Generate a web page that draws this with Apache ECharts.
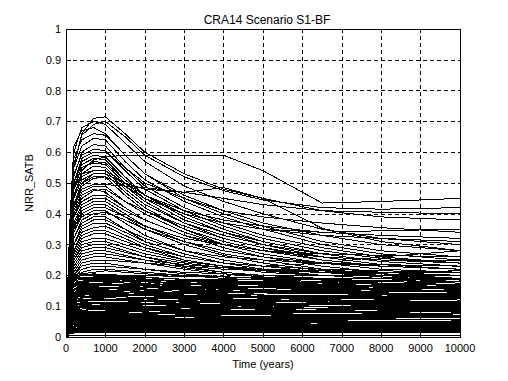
<!DOCTYPE html>
<html>
<head>
<meta charset="utf-8">
<script src="https://cdn.jsdelivr.net/npm/echarts@6/dist/echarts.min.js"></script>
<style>
html,body{margin:0;padding:0;background:#fff;}
#chart{width:508px;height:381px;}
#chart svg path{shape-rendering:crispEdges;}
</style>
</head>
<body>
<div id="chart"></div>
<script>
const chartTitle = 'CRA14 Scenario S1-BF';
const xName = 'Time (years)';
const yName = 'NRR_SATB';
const xTicks = [0,1000,2000,3000,4000,5000,6000,7000,8000,9000,10000];
const yTicks = [0,0.1,0.2,0.3,0.4,0.5,0.6,0.7,0.8,0.9,1];

// times for the peaked runs
const tUpper = [0,100,200,400,700,1000,1500,2000,3000,4000,5000,6500,8000,10000];
const upperRuns = [
 [0,0.30,0.55,0.66,0.71,0.715,0.66,0.60,0.53,0.48,0.45,0.41,0.39,0.38],
 [0,0.35,0.60,0.68,0.70,0.69,0.63,0.57,0.49,0.44,0.40,0.35,0.32,0.30],
 [0,0.38,0.62,0.67,0.68,0.66,0.59,0.53,0.45,0.40,0.36,0.31,0.28,0.26],
 [0,0.25,0.45,0.54,0.575,0.585,0.59,0.59,0.59,0.59,0.54,0.435,0.44,0.45],
 [0,0.33,0.55,0.62,0.645,0.64,0.57,0.51,0.44,0.39,0.35,0.30,0.27,0.25],
 [0,0.30,0.52,0.60,0.625,0.62,0.55,0.49,0.42,0.37,0.33,0.29,0.26,0.24],
 [0,0.28,0.50,0.58,0.60,0.60,0.55,0.50,0.45,0.41,0.39,0.37,0.355,0.34],
 [0,0.25,0.42,0.50,0.53,0.53,0.50,0.48,0.47,0.485,0.45,0.353,0.31,0.28],
 [0,0.30,0.50,0.56,0.58,0.575,0.51,0.46,0.40,0.35,0.31,0.27,0.245,0.23],
 [0,0.28,0.48,0.55,0.57,0.565,0.51,0.46,0.40,0.37,0.35,0.34,0.345,0.35],
 [0,0.26,0.46,0.53,0.555,0.55,0.49,0.44,0.37,0.32,0.29,0.25,0.23,0.22],
 [0,0.30,0.48,0.53,0.54,0.54,0.48,0.43,0.37,0.33,0.30,0.27,0.245,0.23],
 [0,0.27,0.45,0.51,0.53,0.53,0.47,0.42,0.35,0.30,0.27,0.24,0.22,0.21],
 [0,0.24,0.42,0.49,0.515,0.52,0.49,0.45,0.40,0.37,0.35,0.33,0.32,0.31],
 [0,0.25,0.42,0.48,0.495,0.495,0.49,0.485,0.47,0.45,0.43,0.41,0.405,0.40],
 [0,0.25,0.41,0.47,0.49,0.49,0.44,0.40,0.34,0.30,0.27,0.24,0.22,0.21],
 [0,0.22,0.39,0.45,0.475,0.48,0.44,0.41,0.36,0.32,0.29,0.26,0.235,0.22],
 [0,0.24,0.39,0.44,0.46,0.46,0.42,0.38,0.33,0.29,0.26,0.23,0.21,0.20],
 [0,0.22,0.37,0.43,0.45,0.45,0.41,0.38,0.33,0.30,0.28,0.26,0.25,0.24],
 [0,0.21,0.36,0.42,0.44,0.44,0.40,0.36,0.31,0.27,0.25,0.22,0.205,0.19],
 [0,0.20,0.35,0.41,0.43,0.43,0.39,0.35,0.30,0.265,0.24,0.215,0.20,0.185],
 [0,0.19,0.34,0.40,0.42,0.42,0.39,0.36,0.32,0.30,0.28,0.27,0.265,0.26],
 [0,0.20,0.34,0.39,0.41,0.41,0.37,0.33,0.28,0.25,0.23,0.21,0.195,0.185],
 [0,0.18,0.32,0.38,0.40,0.405,0.38,0.35,0.31,0.28,0.26,0.24,0.23,0.22],
 [0,0.19,0.32,0.37,0.39,0.39,0.35,0.31,0.27,0.24,0.22,0.20,0.19,0.18],
 [0,0.17,0.30,0.36,0.38,0.38,0.35,0.32,0.28,0.26,0.25,0.24,0.235,0.23],
 [0,0.18,0.30,0.35,0.37,0.37,0.34,0.31,0.27,0.24,0.22,0.21,0.20,0.19],
 [0,0.16,0.28,0.34,0.355,0.36,0.33,0.30,0.26,0.24,0.23,0.24,0.26,0.28],
 [0,0.17,0.28,0.33,0.345,0.345,0.32,0.29,0.25,0.23,0.21,0.20,0.19,0.185],
 [0,0.15,0.27,0.32,0.335,0.335,0.31,0.29,0.26,0.24,0.23,0.22,0.215,0.21],
 [0,0.16,0.26,0.31,0.32,0.32,0.30,0.28,0.25,0.23,0.215,0.20,0.19,0.18],
 [0,0.14,0.25,0.30,0.31,0.31,0.29,0.27,0.245,0.23,0.22,0.215,0.21,0.21],
 [0,0.15,0.25,0.29,0.30,0.30,0.28,0.26,0.23,0.21,0.20,0.19,0.18,0.175],
 [0,0.13,0.24,0.28,0.29,0.29,0.275,0.26,0.24,0.225,0.215,0.21,0.205,0.20],
 [0,0.14,0.23,0.27,0.28,0.28,0.265,0.25,0.225,0.21,0.20,0.19,0.18,0.175],
 [0,0.13,0.22,0.26,0.27,0.27,0.26,0.25,0.235,0.225,0.22,0.215,0.21,0.21],
 [0,0.12,0.21,0.25,0.26,0.26,0.25,0.24,0.22,0.205,0.195,0.185,0.18,0.175],
 [0,0.12,0.20,0.24,0.25,0.25,0.245,0.24,0.23,0.22,0.215,0.21,0.21,0.215],
 [0,0.11,0.20,0.23,0.24,0.24,0.23,0.22,0.205,0.195,0.19,0.185,0.18,0.175],
 [0,0.11,0.19,0.22,0.23,0.23,0.225,0.22,0.21,0.205,0.20,0.20,0.20,0.20],
 [0,0.10,0.18,0.21,0.22,0.22,0.215,0.21,0.20,0.19,0.185,0.18,0.175,0.17],
 [0,0.10,0.18,0.205,0.21,0.215,0.21,0.205,0.20,0.195,0.19,0.19,0.19,0.19],
 [0,0.36,0.58,0.64,0.66,0.655,0.59,0.53,0.46,0.41,0.37,0.33,0.30,0.28],
 [0,0.32,0.53,0.59,0.61,0.605,0.54,0.48,0.41,0.36,0.32,0.28,0.255,0.24],
 [0,0.30,0.50,0.57,0.59,0.585,0.52,0.46,0.39,0.34,0.30,0.26,0.235,0.22],
 [0,0.29,0.49,0.55,0.565,0.56,0.50,0.45,0.38,0.34,0.31,0.27,0.245,0.23],
 [0,0.34,0.56,0.655,0.69,0.70,0.65,0.59,0.52,0.475,0.445,0.42,0.415,0.42],
 [0,0.27,0.46,0.52,0.54,0.54,0.50,0.46,0.41,0.38,0.36,0.34,0.33,0.32],
 [0,0.25,0.43,0.50,0.52,0.52,0.46,0.41,0.35,0.31,0.28,0.25,0.23,0.22],
 [0,0.23,0.40,0.46,0.48,0.47,0.42,0.38,0.33,0.30,0.28,0.26,0.25,0.25]
];

// times for the low, flat runs
const tLower = [0,100,300,700,1500,2500,4000,5500,7000,8500,10000];
const lowerRuns = [
 [0,0.19,0.20,0.20,0.195,0.19,0.18,0.175,0.17,0.165,0.16],
 [0,0.17,0.19,0.195,0.19,0.185,0.18,0.18,0.175,0.175,0.17],
 [0,0.18,0.19,0.19,0.185,0.175,0.165,0.16,0.155,0.15,0.15],
 [0,0.16,0.18,0.185,0.18,0.178,0.172,0.168,0.165,0.16,0.158],
 [0,0.15,0.175,0.18,0.175,0.17,0.16,0.15,0.145,0.14,0.138],
 [0,0.16,0.17,0.172,0.17,0.165,0.162,0.16,0.16,0.158,0.155],
 [0,0.14,0.165,0.168,0.165,0.158,0.15,0.146,0.14,0.136,0.132],
 [0,0.15,0.16,0.162,0.16,0.16,0.156,0.152,0.15,0.148,0.146],
 [0,0.13,0.155,0.158,0.155,0.15,0.145,0.142,0.14,0.14,0.142],
 [0,0.14,0.15,0.152,0.15,0.146,0.14,0.134,0.13,0.127,0.125],
 [0,0.12,0.145,0.148,0.146,0.142,0.138,0.135,0.134,0.132,0.13],
 [0,0.13,0.14,0.142,0.14,0.136,0.13,0.127,0.125,0.122,0.12],
 [0,0.12,0.135,0.138,0.136,0.132,0.128,0.126,0.125,0.124,0.124],
 [0,0.11,0.13,0.133,0.13,0.126,0.12,0.116,0.112,0.11,0.108],
 [0,0.12,0.126,0.128,0.126,0.124,0.121,0.119,0.118,0.117,0.116],
 [0,0.10,0.12,0.124,0.122,0.118,0.113,0.11,0.107,0.105,0.104],
 [0,0.11,0.116,0.118,0.117,0.115,0.112,0.11,0.109,0.109,0.11],
 [0,0.10,0.11,0.113,0.112,0.108,0.104,0.1,0.098,0.096,0.095],
 [0,0.095,0.106,0.108,0.107,0.105,0.103,0.101,0.1,0.1,0.1],
 [0,0.09,0.1,0.103,0.102,0.099,0.095,0.092,0.09,0.088,0.087],
 [0,0.088,0.096,0.098,0.097,0.095,0.093,0.092,0.091,0.091,0.092],
 [0,0.08,0.09,0.093,0.092,0.089,0.085,0.082,0.08,0.078,0.077],
 [0,0.082,0.087,0.088,0.087,0.086,0.084,0.083,0.083,0.082,0.082],
 [0,0.075,0.082,0.084,0.083,0.08,0.077,0.075,0.073,0.072,0.071],
 [0,0.07,0.077,0.079,0.078,0.077,0.075,0.074,0.074,0.075,0.076],
 [0,0.066,0.072,0.074,0.073,0.071,0.068,0.066,0.064,0.063,0.062],
 [0,0.062,0.068,0.07,0.069,0.068,0.067,0.066,0.066,0.066,0.067],
 [0,0.058,0.063,0.065,0.064,0.062,0.06,0.058,0.057,0.056,0.055],
 [0,0.054,0.059,0.06,0.06,0.059,0.058,0.057,0.057,0.058,0.058],
 [0,0.05,0.054,0.056,0.055,0.053,0.051,0.05,0.049,0.048,0.047],
 [0,0.046,0.05,0.051,0.051,0.05,0.049,0.049,0.049,0.05,0.05],
 [0,0.042,0.046,0.047,0.046,0.045,0.043,0.042,0.041,0.04,0.04],
 [0,0.038,0.041,0.042,0.042,0.041,0.04,0.04,0.04,0.041,0.041],
 [0,0.034,0.037,0.038,0.037,0.036,0.035,0.034,0.033,0.033,0.032],
 [0,0.03,0.033,0.034,0.034,0.033,0.032,0.032,0.032,0.032,0.033],
 [0,0.026,0.028,0.029,0.029,0.028,0.027,0.026,0.026,0.025,0.025],
 [0,0.022,0.024,0.025,0.025,0.024,0.024,0.024,0.024,0.024,0.024],
 [0,0.018,0.02,0.021,0.021,0.02,0.019,0.019,0.018,0.018,0.018],
 [0,0.014,0.016,0.017,0.017,0.017,0.016,0.016,0.016,0.016,0.016],
 [0,0.005,0.006,0.006,0.006,0.006,0.006,0.006,0.006,0.006,0.006],
 [0,0.17,0.2,0.2,0.19,0.17,0.15,0.13,0.115,0.105,0.1],
 [0,0.15,0.18,0.185,0.175,0.16,0.14,0.125,0.11,0.1,0.095],
 [0,0.12,0.15,0.16,0.155,0.14,0.12,0.105,0.095,0.088,0.083],
 [0,0.1,0.125,0.135,0.13,0.118,0.1,0.088,0.08,0.074,0.07],
 [0,0.08,0.1,0.108,0.104,0.094,0.08,0.07,0.063,0.058,0.055],
 [0,0.06,0.075,0.08,0.078,0.07,0.06,0.052,0.047,0.044,0.042],
 [0,0.045,0.055,0.058,0.056,0.05,0.043,0.038,0.034,0.031,0.03],
 [0,0.05,0.065,0.07,0.075,0.08,0.085,0.09,0.094,0.097,0.1],
 [0,0.08,0.095,0.1,0.105,0.112,0.12,0.126,0.13,0.134,0.137],
 [0,0.11,0.125,0.13,0.135,0.14,0.147,0.152,0.156,0.16,0.163],
 [0,0.03,0.04,0.044,0.048,0.053,0.058,0.062,0.065,0.067,0.069],
 [0,0.14,0.16,0.165,0.168,0.17,0.172,0.176,0.18,0.184,0.188],
 [0,0.16,0.185,0.19,0.185,0.178,0.168,0.158,0.148,0.14,0.134],
 [0,0.13,0.15,0.155,0.15,0.145,0.135,0.128,0.12,0.115,0.112],
 [0,0.095,0.115,0.12,0.118,0.112,0.103,0.096,0.09,0.086,0.084],
 [0,0.07,0.085,0.09,0.088,0.084,0.078,0.073,0.069,0.066,0.064],
 [0,0.04,0.048,0.052,0.054,0.056,0.06,0.064,0.068,0.072,0.075],
 [0,0.02,0.028,0.031,0.033,0.036,0.04,0.044,0.047,0.05,0.052],
 [0,0.185,0.195,0.19,0.18,0.168,0.155,0.146,0.14,0.136,0.133],
 [0,0.165,0.175,0.175,0.17,0.165,0.158,0.152,0.146,0.142,0.14],
 [0,0.19,0.198,0.2,0.2,0.198,0.195,0.193,0.19,0.188,0.186],
 [0,0.175,0.185,0.188,0.186,0.182,0.176,0.172,0.168,0.166,0.165],
 [0,0.155,0.168,0.17,0.168,0.163,0.155,0.148,0.143,0.138,0.135],
 [0,0.145,0.158,0.16,0.158,0.154,0.148,0.145,0.146,0.15,0.153],
 [0,0.125,0.138,0.14,0.139,0.136,0.133,0.13,0.128,0.127,0.127],
 [0,0.115,0.126,0.13,0.13,0.128,0.124,0.12,0.116,0.113,0.11],
 [0,0.105,0.118,0.12,0.119,0.116,0.11,0.106,0.104,0.103,0.103],
 [0,0.09,0.104,0.108,0.11,0.108,0.105,0.104,0.105,0.107,0.11],
 [0,0.085,0.094,0.095,0.094,0.092,0.088,0.085,0.083,0.082,0.081],
 [0,0.072,0.08,0.082,0.082,0.08,0.079,0.079,0.08,0.081,0.082],
 [0,0.064,0.07,0.071,0.07,0.068,0.064,0.061,0.059,0.058,0.057],
 [0,0.055,0.062,0.063,0.062,0.061,0.06,0.06,0.061,0.062,0.063],
 [0,0.048,0.052,0.053,0.053,0.052,0.05,0.048,0.046,0.045,0.044],
 [0,0.036,0.043,0.045,0.045,0.044,0.044,0.045,0.046,0.047,0.048],
 [0,0.028,0.035,0.036,0.036,0.035,0.034,0.033,0.031,0.03,0.029],
 [0,0.02,0.025,0.026,0.027,0.027,0.027,0.028,0.029,0.03,0.03],
 [0,0.012,0.018,0.019,0.019,0.019,0.019,0.02,0.02,0.021,0.021],
 [0,0.18,0.2,0.205,0.2,0.19,0.18,0.17,0.16,0.152,0.147],
 [0,0.1,0.115,0.118,0.122,0.126,0.13,0.133,0.135,0.137,0.139],
 [0,0.06,0.07,0.072,0.074,0.077,0.08,0.084,0.087,0.09,0.092],
 [0,0.196,0.2,0.198,0.192,0.185,0.178,0.172,0.166,0.162,0.158],
 [0,0.168,0.178,0.18,0.182,0.184,0.186,0.186,0.185,0.182,0.18],
 [0,0.15,0.162,0.166,0.166,0.165,0.164,0.162,0.158,0.154,0.15],
 [0,0.138,0.148,0.15,0.152,0.156,0.16,0.163,0.166,0.168,0.17],
 [0,0.128,0.142,0.146,0.144,0.139,0.131,0.124,0.118,0.114,0.112],
 [0,0.118,0.131,0.134,0.135,0.134,0.132,0.13,0.13,0.131,0.133],
 [0,0.108,0.12,0.122,0.121,0.118,0.116,0.114,0.113,0.112,0.112],
 [0,0.098,0.108,0.11,0.108,0.104,0.098,0.094,0.091,0.089,0.088],
 [0,0.086,0.098,0.101,0.1,0.098,0.097,0.097,0.098,0.099,0.1],
 [0,0.076,0.086,0.089,0.089,0.088,0.086,0.085,0.084,0.084,0.085],
 [0,0.068,0.075,0.076,0.076,0.075,0.073,0.071,0.07,0.069,0.069],
 [0,0.06,0.066,0.067,0.066,0.065,0.065,0.066,0.067,0.069,0.07],
 [0,0.052,0.057,0.058,0.057,0.056,0.054,0.053,0.052,0.051,0.051],
 [0,0.044,0.048,0.049,0.048,0.047,0.046,0.046,0.045,0.044,0.043],
 [0,0.032,0.038,0.039,0.039,0.039,0.038,0.037,0.037,0.037,0.037],
 [0,0.024,0.03,0.031,0.031,0.03,0.029,0.029,0.028,0.028,0.028],
 [0,0.016,0.022,0.023,0.023,0.023,0.022,0.022,0.022,0.023,0.023],
 [0,0.012,0.014,0.015,0.015,0.015,0.015,0.015,0.015,0.015,0.015],
 [0,0.2,0.205,0.203,0.198,0.19,0.183,0.178,0.174,0.17,0.168],
 [0,0.178,0.19,0.192,0.19,0.184,0.174,0.165,0.157,0.15,0.145]
];

const FONT = "'Liberation Sans', Arial, sans-serif";

function toSeries(times, runs) {
  return runs.map(vals => ({
    type: 'line',
    data: vals.map((v, i) => [times[i], v]),
    showSymbol: false,
    symbol: 'none',
    lineStyle: { color: '#000', width: 1 },
    silent: true,
    z: 3
  }));
}

const chart = echarts.init(document.getElementById('chart'), null, { renderer: 'svg' });
chart.setOption({
  animation: false,
  backgroundColor: '#fff',
  title: {
    text: chartTitle,
    left: 262, textAlign: 'center',
    top: 9,
    textStyle: { fontFamily: FONT, fontSize: 12, fontWeight: 'normal', color: '#000' }
  },
  grid: { left: 66, right: 48, top: 29, bottom: 44, show: true, borderColor: '#000', borderWidth: 1, backgroundColor: 'transparent' },
  xAxis: {
    type: 'value', min: 0, max: 10000, interval: 1000,
    name: xName, nameLocation: 'middle', nameGap: 21,
    nameTextStyle: { fontFamily: FONT, fontSize: 11, color: '#000' },
    axisLine: { show: true, lineStyle: { color: '#000' } },
    axisTick: { show: true, inside: true, length: 5, lineStyle: { color: '#000' } },
    axisLabel: { fontFamily: FONT, fontSize: 11, color: '#000', margin: 5,
      formatter: v => xTicks.includes(v) ? String(v) : '' },
    splitLine: { show: true, lineStyle: { color: '#000', type: [4, 3], width: 1 } }
  },
  yAxis: {
    type: 'value', min: 0, max: 1, interval: 0.1,
    name: yName, nameLocation: 'middle', nameGap: 26, nameRotate: 90,
    nameTextStyle: { fontFamily: FONT, fontSize: 11, color: '#000' },
    axisLine: { show: true, lineStyle: { color: '#000' } },
    axisTick: { show: true, inside: true, length: 5, lineStyle: { color: '#000' } },
    axisLabel: { fontFamily: FONT, fontSize: 11, color: '#000', margin: 5,
      formatter: v => { const t = yTicks.find(y => Math.abs(y - v) < 1e-9); return t === undefined ? '' : String(t); } },
    splitLine: { show: true, lineStyle: { color: '#000', type: [4, 3], width: 1 } }
  },
  series: toSeries(tLower, lowerRuns).concat(toSeries(tUpper, upperRuns))
});
</script>
</body>
</html>
